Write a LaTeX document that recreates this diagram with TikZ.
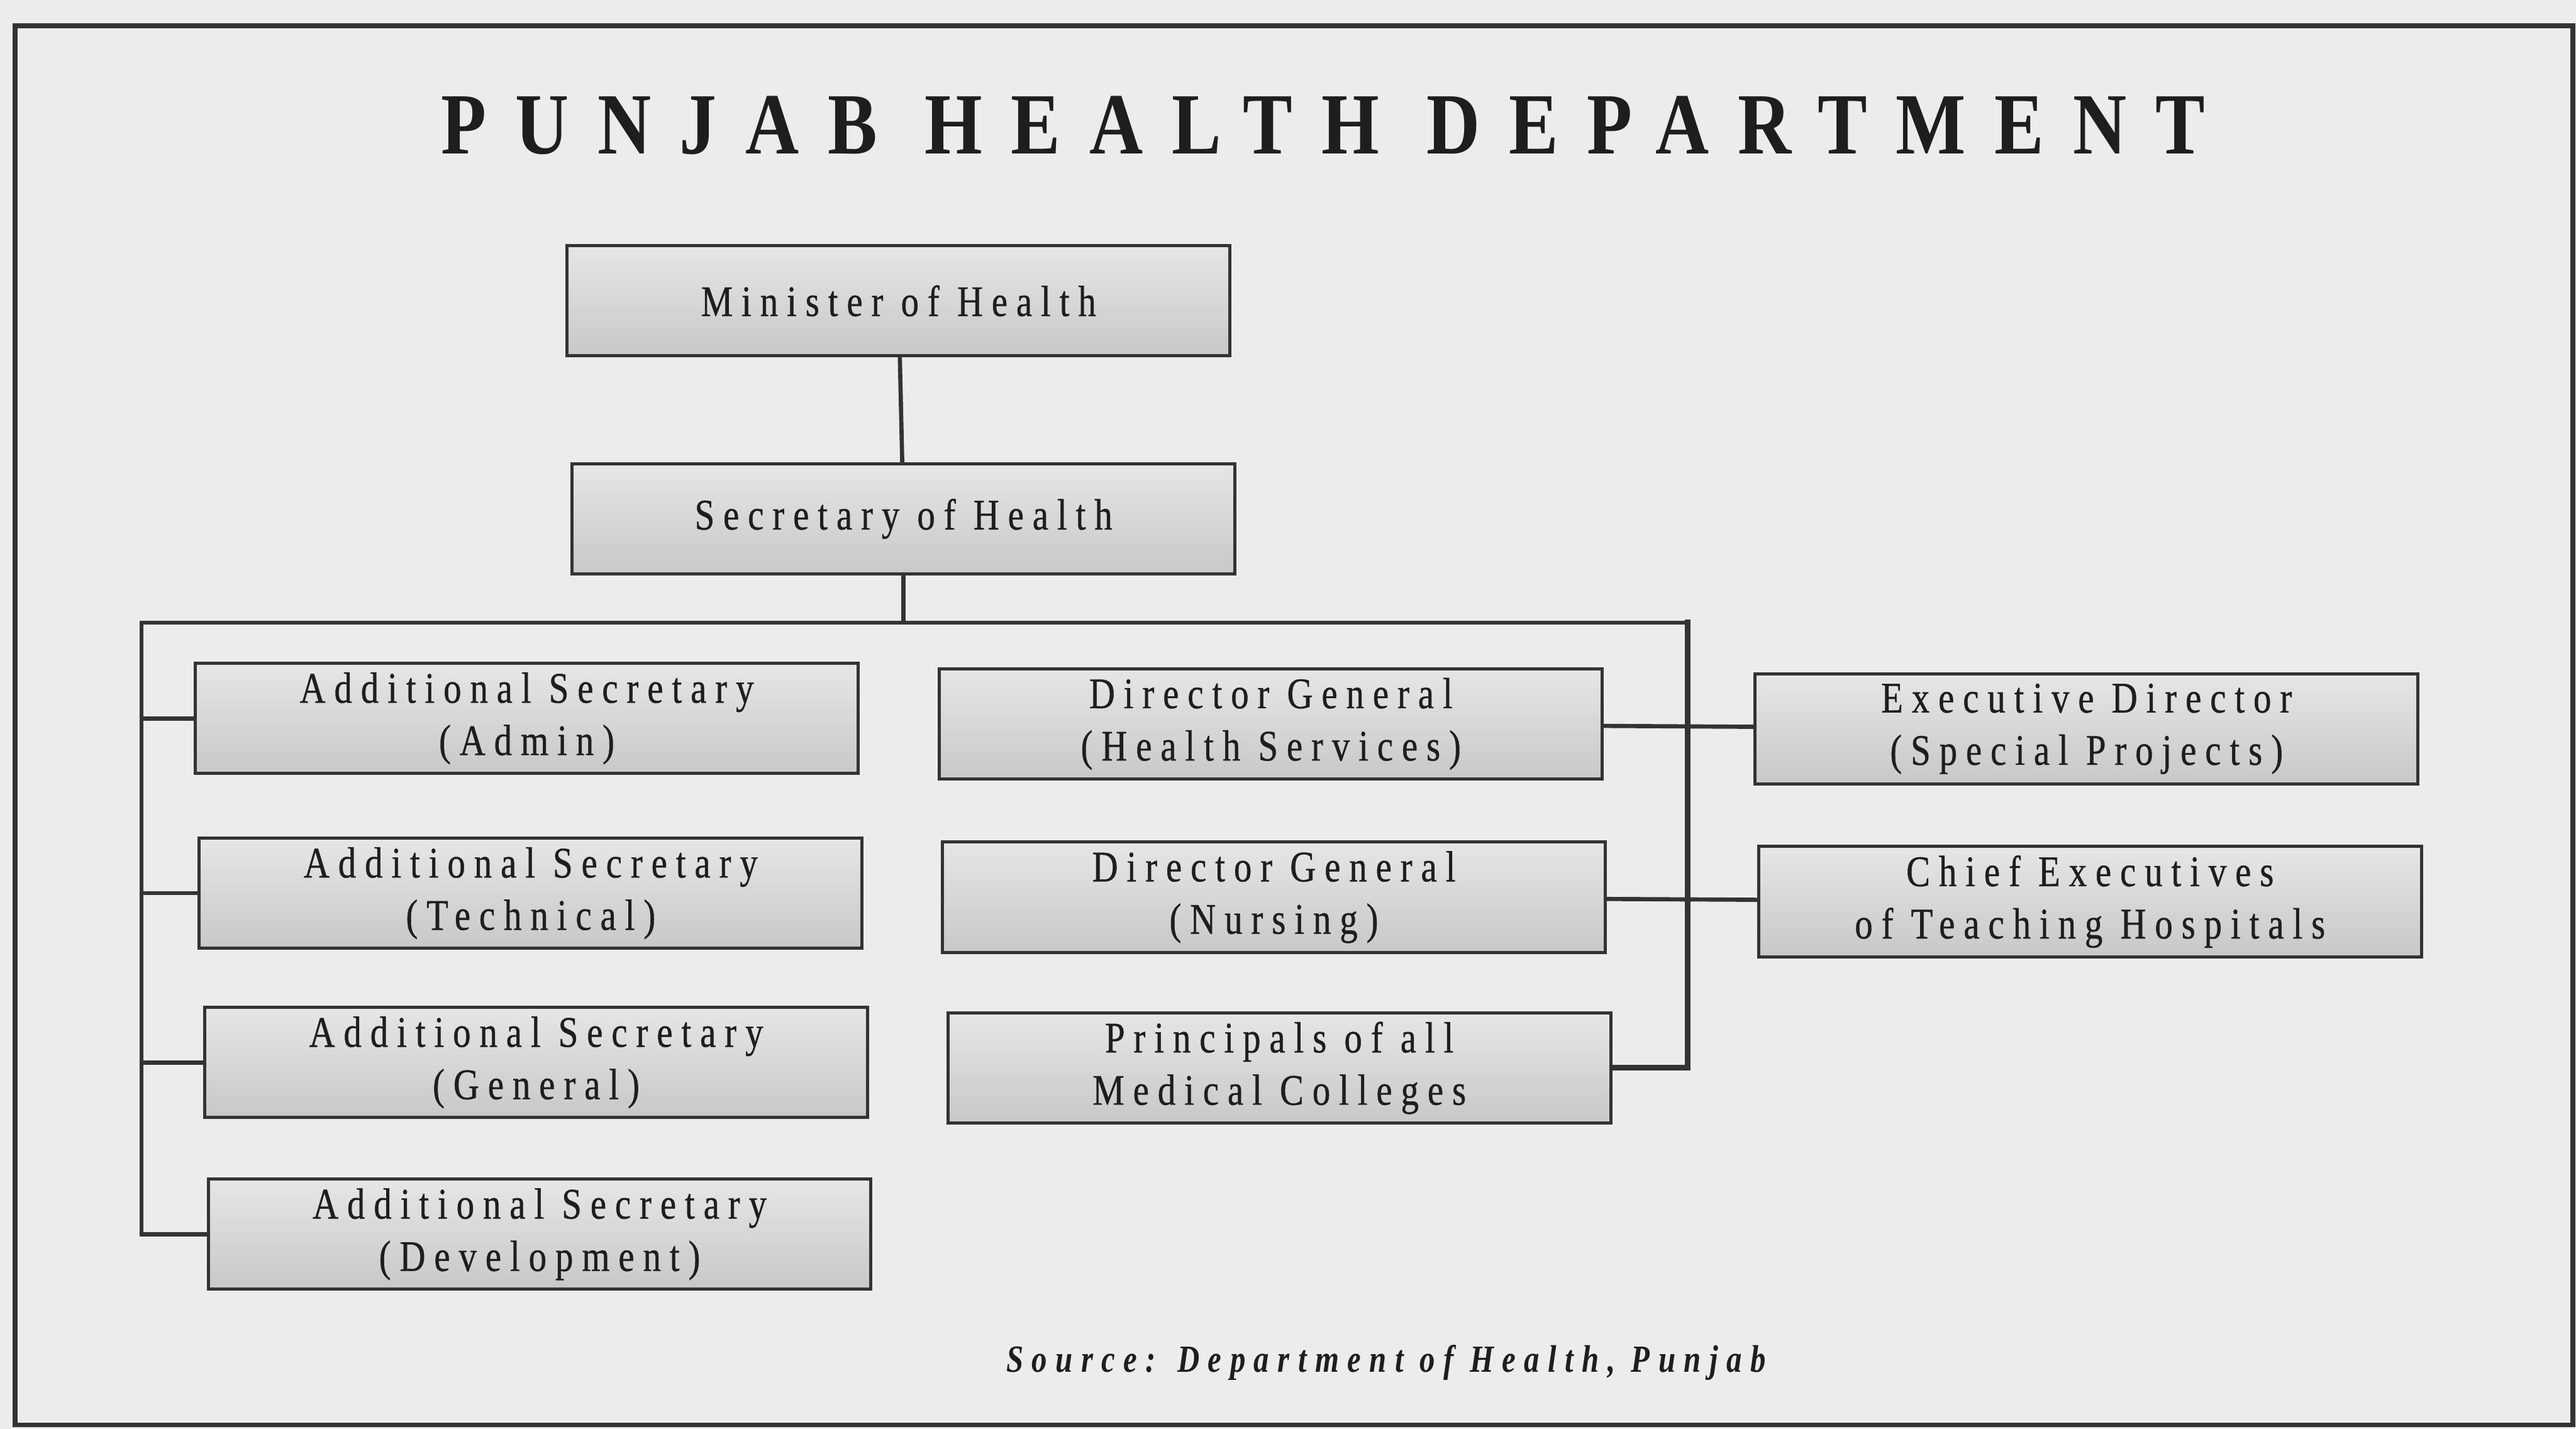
\documentclass[tikz,border=0pt]{standalone}
\usepackage{fontspec}
\usepackage{tikz}
\usetikzlibrary{
  positioning,
  calc,
  backgrounds
}
\newfontfamily\phboxfont[FakeStretch=0.82,LetterSpace=20,FakeBold=0.6]{Liberation Serif}
\newfontfamily\phtitlefont[FakeStretch=0.85,LetterSpace=33]{Liberation Serif}
\newfontfamily\phsrcfont[FakeStretch=0.8,LetterSpace=22]{Liberation Serif}
\definecolor{phPaper}{HTML}{ECECEC}
\definecolor{phInk}{HTML}{1E1E1E}
\definecolor{phLine}{HTML}{333333}
\definecolor{phBoxTop}{HTML}{E6E6E6}
\definecolor{phBoxBot}{HTML}{C8C8C8}
\tikzset{
  orgbox/.style={
    draw=phLine, line width=1.8pt, minimum width=133.5mm, minimum height=22.2mm,
    inner sep=0pt, align=center, text=phInk,
    top color=phBoxTop, bottom color=phBoxBot,
    font=\phboxfont\fontsize{25}{30}\selectfont
  },
  link/.style={draw=phLine, line width=2.4pt, line cap=rect},
  trunk/.style={link, line width=3.2pt},
  pageframe/.style={draw=phLine, line width=2.8pt},
  titletext/.style={font=\phtitlefont\bfseries\fontsize{50}{60}\selectfont, text=phInk},
  srctext/.style={font=\phsrcfont\bfseries\itshape\fontsize{22}{26}\selectfont, text=phInk}
}

\begin{document}
\begin{tikzpicture}
  \fill[phPaper] (0,0) rectangle (51.89,-28.78);
  \useasboundingbox (0,0) rectangle (51.89,-28.78);
  \draw[pageframe] (0.30,-0.52) rectangle (51.83,-28.70);

  \node[titletext] (title) at (26.65,-2.52) {PUNJAB HEALTH DEPARTMENT};

  \node[orgbox] (minister) at (18.10,-6.06) {Minister of Health};
  \node[orgbox] (secretary) at (18.20,-10.45) {Secretary of Health};

  \node[orgbox] (asadmin) at (10.61,-14.47) {Additional Secretary\\(Admin)};
  \node[orgbox] (astech) at (10.69,-17.99) {Additional Secretary\\(Technical)};
  \node[orgbox] (asgen) at (10.80,-21.40) {Additional Secretary\\(General)};
  \node[orgbox] (asdev) at (10.87,-24.86) {Additional Secretary\\(Development)};

  \node[orgbox] (dghs) at (25.60,-14.58) {Director General\\(Health Services)};
  \node[orgbox] (dgn) at (25.66,-18.07) {Director General\\(Nursing)};
  \node[orgbox] (princ) at (25.77,-21.51) {Principals of all\\Medical Colleges};

  \node[orgbox] (exdir) at (42.03,-14.68) {Executive Director\\(Special Projects)};
  \node[orgbox] (chiefex) at (42.10,-18.16) {Chief Executives\\of Teaching Hospitals};

  \node[srctext] (source) at (27.92,-27.44) {Source: Department of Health, Punjab};

  \coordinate (busL) at (2.85,-12.54);
  \coordinate (busR) at (34.00,-12.54);

  \draw[link] (minister) -- (secretary);
  \draw[link] (secretary) -- (secretary.south |- busL);
  \draw[link] (asdev) -| (busL) -- (busR);
  \draw[trunk] (busR) |- (princ);
  \draw[link] (asadmin) -- (asadmin -| busL);
  \draw[link] (astech) -- (astech -| busL);
  \draw[link] (asgen) -- (asgen -| busL);
  \draw[link] (dghs) -- (exdir);
  \draw[link] (dgn) -- (chiefex);
\end{tikzpicture}
\end{document}
